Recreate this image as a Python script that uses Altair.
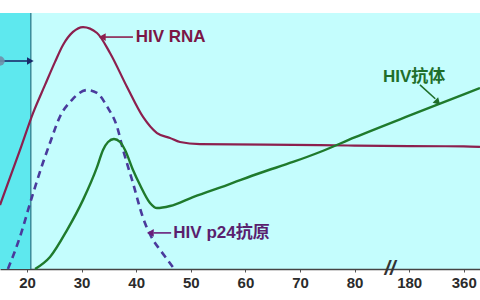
import altair as alt
import pandas as pd

# ---- data (days since infection, relative level 0-100) ----
rna_day = [15.05, 18.72, 21.1, 23.3, 25.13, 26.59, 28.42, 30.26, 32.82, 35.2, 38.32, 41.25, 43.81, 46.19, 48.02,
           51.68, 73.66, 80, 180, 360, 413.4]
rna_val = [25.0, 46.5, 60.9, 71.9, 80.9, 87.5, 92.6, 94.5, 92.2, 84.4, 71.1, 59.4, 53.1, 51.2, 49.6,
           48.8, 48.4, 48.2, 48.0, 47.9, 47.7]

p24_day = [16.5, 18.7, 20.9, 22.9, 24.2, 26.0, 28.2, 31.0, 32.8, 34.7, 36.5, 37.6, 39.4, 41.2, 43.1, 44.4, 46.7]
p24_val = [0.0, 12.5, 28.1, 41.4, 49.2, 59.4, 66.0, 69.9, 68.8, 63.3, 55.5, 46.5, 33.6, 20.3, 11.3, 7.4, 0.8]

ab_day = [21.47, 24.21, 27.33, 30.26, 32.82, 33.92, 34.84, 35.93, 37.03, 37.95, 39.41, 40.7, 42.53, 43.81,
          46.19, 50.4, 56.63, 62.67, 68.72, 73.66, 80, 180, 360, 413.4]
ab_val = [0.0, 4.7, 15.2, 27.0, 39.8, 46.5, 49.6, 50.8, 49.6, 46.5, 38.7, 32.8, 25.8, 23.8,
          24.6, 28.1, 32.8, 37.5, 41.8, 45.7, 51.4, 59.9, 68.2, 70.7]

tick_days = [20, 30, 40, 50, 60, 70, 80, 180, 360]

window_start, window_end = 15.05, 20.7

FONT = "Liberation Sans, Noto Sans CJK SC"


def brk(f):
    # broken axis: 80->180 and 180->360 each take the width of 10 days
    return f"{f} <= 80 ? {f} : ({f} <= 180 ? 80 + ({f} - 80) / 10 : 90 + ({f} - 180) / 18)"


xscale = alt.Scale(domain=[15.05, 102.97], nice=False, zero=False)
yscale = alt.Scale(domain=[0, 100], nice=False, zero=False)

tick_pos = [d if d <= 80 else (80 + (d - 80) / 10 if d <= 180 else 90 + (d - 180) / 18) for d in tick_days]

label_expr = ("datum.value <= 80 ? format(datum.value, 'd') : "
              "(datum.value <= 90 ? format(80 + (datum.value - 80) * 10, 'd') : "
              "format(180 + (datum.value - 90) * 18, 'd'))")

AX = alt.Axis(values=tick_pos, title=None, grid=False, labelExpr=label_expr,
              labelFont=FONT, labelFontSize=15, labelFontWeight="bold",
              labelColor="#2b2b2b", tickColor="#555", tickSize=3,
              domainColor="#444", domainWidth=1.5, labelPadding=3,
              labelFlush=False)


def xenc(f):
    return alt.X(f, scale=xscale, axis=AX)


def yenc(f):
    return alt.Y(f, scale=yscale, axis=None)


curves = pd.DataFrame(
    [{"series": "RNA", "day": d, "v": v} for d, v in zip(rna_day, rna_val)]
    + [{"series": "p24", "day": d, "v": v} for d, v in zip(p24_day, p24_val)]
    + [{"series": "ab", "day": d, "v": v} for d, v in zip(ab_day, ab_val)]
)

win = alt.Chart(pd.DataFrame({"a": [window_start], "b": [window_end], "y0": [0], "y1": [100]})).transform_calculate(
    pa=brk("datum.a"), pb=brk("datum.b")).mark_rect(color="#5ee8ee").encode(
    x=xenc("pa:Q"), x2="pb:Q", y=yenc("y0:Q"), y2="y1:Q")

vline = alt.Chart(pd.DataFrame({"a": [window_end], "y0": [0], "y1": [100]})).transform_calculate(
    pa=brk("datum.a")).mark_rule(color="#2a7282", strokeWidth=1.2).encode(
    x=xenc("pa:Q"), y=yenc("y0:Q"), y2="y1:Q")

base = alt.Chart(curves).transform_calculate(px=brk("datum.day"))
rna = base.transform_filter("datum.series == 'RNA'").mark_line(
    color="#8c1f4e", strokeWidth=2.2, interpolate="monotone").encode(x=xenc("px:Q"), y=yenc("v:Q"))
p24 = base.transform_filter("datum.series == 'p24'").mark_line(
    color="#4a3a9c", strokeWidth=2.6, strokeDash=[7, 5], interpolate="monotone").encode(
    x=xenc("px:Q"), y=yenc("v:Q"))
ab = base.transform_filter("datum.series == 'ab'").mark_line(
    color="#1f7a2c", strokeWidth=2.4, interpolate="monotone").encode(x=xenc("px:Q"), y=yenc("v:Q"))

# arrows
arrows = pd.DataFrame([
    {"x1": 39.4, "y1": 90.6, "x2": 34.3, "y2": 90.6, "c": "#8c1f4e"},
    {"x1": 215.6, "y1": 71.9, "x2": 266.0, "y2": 66.5, "c": "#1f6e2a"},
    {"x1": 46.4, "y1": 14.1, "x2": 43.2, "y2": 14.1, "c": "#6a1f7a"},
    {"x1": 15.05, "y1": 81.25, "x2": 20.2, "y2": 81.25, "c": "#1a2a6a"},
])
arrow_lines = alt.Chart(arrows).transform_calculate(
    p1=brk("datum.x1"), p2=brk("datum.x2")).mark_rule(strokeWidth=1.6).encode(
    x=xenc("p1:Q"), y=yenc("y1:Q"), x2="p2:Q", y2="y2:Q", color=alt.Color("c:N", scale=None))

heads = pd.DataFrame([
    {"x": 34.0, "y": 90.6, "a": 270, "c": "#8c1f4e"},
    {"x": 271.6, "y": 65.4, "a": 135, "c": "#1f6e2a"},
    {"x": 42.8, "y": 14.1, "a": 270, "c": "#6a1f7a"},
    {"x": 20.4, "y": 81.25, "a": 90, "c": "#1a2a6a"},
])
arrow_heads = alt.Chart(heads).transform_calculate(p=brk("datum.x")).mark_point(
    shape="triangle", filled=True, size=60, opacity=1).encode(
    x=xenc("p:Q"), y=yenc("y:Q"),
    angle=alt.Angle("a:Q", scale=None), color=alt.Color("c:N", scale=None))

dot = alt.Chart(pd.DataFrame({"x": [15.05], "y": [81.25]})).transform_calculate(
    p=brk("datum.x")).mark_point(filled=True, size=90, color="#6f8fa8", opacity=0.9).encode(
    x=xenc("p:Q"), y=yenc("y:Q"))

labels = pd.DataFrame([
    {"x": 39.9, "y": 90.6, "t": "HIV RNA", "c": "#7b1645"},
    {"x": 132.0, "y": 75.0, "t": "HIV抗体", "c": "#1f6e2a"},
    {"x": 46.8, "y": 14.1, "t": "HIV p24抗原", "c": "#5a1f6e"},
])
texts = alt.Chart(labels).transform_calculate(p=brk("datum.x")).mark_text(
    align="left", baseline="middle", font=FONT, fontSize=17, fontWeight="bold").encode(
    x=xenc("p:Q"), y=yenc("y:Q"), text="t:N", color=alt.Color("c:N", scale=None))

brk_mark = alt.Chart(pd.DataFrame({"x": [144.8], "y": [0], "t": ["//"]})).transform_calculate(
    p=brk("datum.x")).mark_text(
    font=FONT, fontSize=20, fontWeight="bold", fontStyle="italic", color="#333",
    baseline="middle", align="center").encode(x=xenc("p:Q"), y=yenc("y:Q"), text="t:N")

chart = alt.layer(win, vline, rna, p24, ab, arrow_lines, arrow_heads, dot, texts, brk_mark).properties(
    width=480, height=256,
    autosize=alt.AutoSizeParams(type="none"),
    padding={"left": 0, "right": 0, "top": 13, "bottom": 31},
    background="white",
).configure_view(fill="#c4fdfd", strokeWidth=0)

chart.save("out.html", embed_options={"renderer": "svg", "actions": False})
